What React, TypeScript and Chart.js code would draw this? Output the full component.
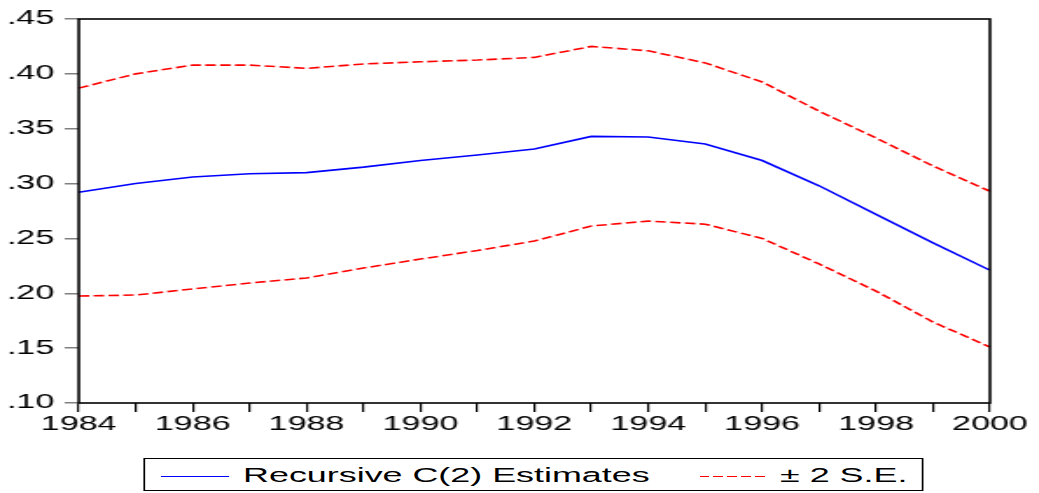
import React, { useEffect, useRef } from "react";
import { Chart, registerables } from "chart.js";

Chart.register(...registerables);

// ---- data ----
const years = [
  "1984", "1985", "1986", "1987", "1988", "1989", "1990", "1991", "1992",
  "1993", "1994", "1995", "1996", "1997", "1998", "1999", "2000",
];
const estimates = [
  0.292, 0.3, 0.306, 0.309, 0.31, 0.315, 0.321, 0.326, 0.3315,
  0.343, 0.3425, 0.336, 0.321, 0.298, 0.272, 0.246, 0.221,
];
const upperBand = [
  0.387, 0.4, 0.408, 0.408, 0.405, 0.409, 0.411, 0.4126, 0.415,
  0.425, 0.421, 0.41, 0.3926, 0.366, 0.3415, 0.316, 0.293,
];
const lowerBand = [
  0.1975, 0.1984, 0.204, 0.2093, 0.214, 0.223, 0.2312, 0.239, 0.2476,
  0.2613, 0.2658, 0.263, 0.25, 0.2267, 0.202, 0.1738, 0.151,
];
const yMin = 0.1;
const yMax = 0.45;
const yStep = 0.05;
const legendLabels = ["Recursive C(2) Estimates", "\u00B1 2 S.E."];

// ---- layout ----
const STRETCH = 1.749;
const W = 594;
const H = 493;
const FONT = "'Liberation Sans', Arial, Helvetica, sans-serif";

const framePlugin = {
  id: "frame",
  afterDatasetsDraw(chart: any) {
    const { ctx, chartArea } = chart;
    const { left, top, right, bottom } = chartArea;
    ctx.save();
    ctx.strokeStyle = "#000";
    ctx.lineWidth = 1.6;
    ctx.strokeRect(left, top, right - left, bottom - top);
    ctx.restore();
  },
};

export default function App() {
  const ref = useRef<HTMLCanvasElement>(null);

  useEffect(() => {
    document.body.style.margin = "0";
    const chart = new Chart(ref.current as HTMLCanvasElement, {
      type: "line",
      data: {
        labels: years,
        datasets: [
          {
            label: legendLabels[0],
            data: estimates,
            borderColor: "#0000ff",
            borderWidth: 1.6,
            pointRadius: 0,
            tension: 0,
          },
          {
            label: legendLabels[1],
            data: upperBand,
            borderColor: "#ff0000",
            borderWidth: 1.6,
            borderDash: [6, 2.5],
            pointRadius: 0,
            tension: 0,
          },
          {
            label: legendLabels[1] + " lower",
            data: lowerBand,
            borderColor: "#ff0000",
            borderWidth: 1.6,
            borderDash: [6, 2.5],
            pointRadius: 0,
            tension: 0,
          },
        ],
      },
      options: {
        responsive: false,
        animation: false,
        layout: { padding: { top: 19, right: 28, bottom: 50, left: 0 } },
        plugins: {
          legend: { display: false },
          tooltip: { enabled: false },
        },
        scales: {
          x: {
            type: "category",
            offset: false,
            grid: {
              offset: false,
              drawOnChartArea: false,
              drawTicks: true,
              tickLength: 9,
              color: "#000",
              lineWidth: 1.2,
            },
            border: { display: false },
            ticks: {
              autoSkip: false,
              maxRotation: 0,
              minRotation: 0,
              padding: 1,
              color: "#000",
              font: { family: FONT, size: 19.5 },
              callback: (_v: any, i: number) => (i % 2 === 0 ? years[i] : ""),
            },
            afterFit: (s: any) => {
              s.height = 40;
            },
          },
          y: {
            min: yMin,
            max: yMax,
            grid: {
              drawOnChartArea: false,
              drawTicks: true,
              tickLength: 8,
              color: "#808080",
              lineWidth: 1.5,
            },
            border: { display: false },
            ticks: {
              stepSize: yStep,
              padding: 6,
              color: "#000",
              font: { family: FONT, size: 19.5 },
              callback: (v: any) => Number(v).toFixed(2).replace(/^0/, ""),
            },
            afterFit: (s: any) => {
              s.width = 45;
            },
          },
        },
      },
      plugins: [framePlugin],
    });
    return () => chart.destroy();
  }, []);

  const textStyle: React.CSSProperties = {
    position: "absolute",
    top: 0,
    height: 31,
    lineHeight: "31px",
    fontFamily: FONT,
    fontSize: 20.5,
    color: "#000",
    whiteSpace: "nowrap",
  };

  return (
    <div
      style={{
        width: 1039,
        height: H,
        position: "relative",
        overflow: "hidden",
        background: "#fff",
      }}
    >
      <div
        style={{
          position: "absolute",
          left: 0,
          top: 0,
          width: W,
          height: H,
          transform: `scaleX(${STRETCH})`,
          transformOrigin: "0 0",
        }}
      >
        <canvas ref={ref} width={W} height={H} style={{ display: "block" }} />
        <div
          style={{
            position: "absolute",
            left: 82,
            top: 458,
            width: 446,
            height: 33,
            boxSizing: "border-box",
            border: "1px solid #000",
            background: "#fff",
          }}
        >
          <div
            style={{
              position: "absolute",
              left: 9,
              top: 16.5,
              width: 39,
              height: 1.6,
              background: "#0000ff",
            }}
          />
          <div style={{ ...textStyle, left: 56 }}>{legendLabels[0]}</div>
          <div
            style={{
              position: "absolute",
              left: 316.5,
              top: 16.5,
              width: 38.5,
              height: 1.6,
              background:
                "repeating-linear-gradient(to right, #ff0000 0px, #ff0000 5.6px, transparent 5.6px, transparent 7.9px)",
            }}
          />
          <div style={{ ...textStyle, left: 363 }}>{legendLabels[1]}</div>
        </div>
      </div>
    </div>
  );
}
